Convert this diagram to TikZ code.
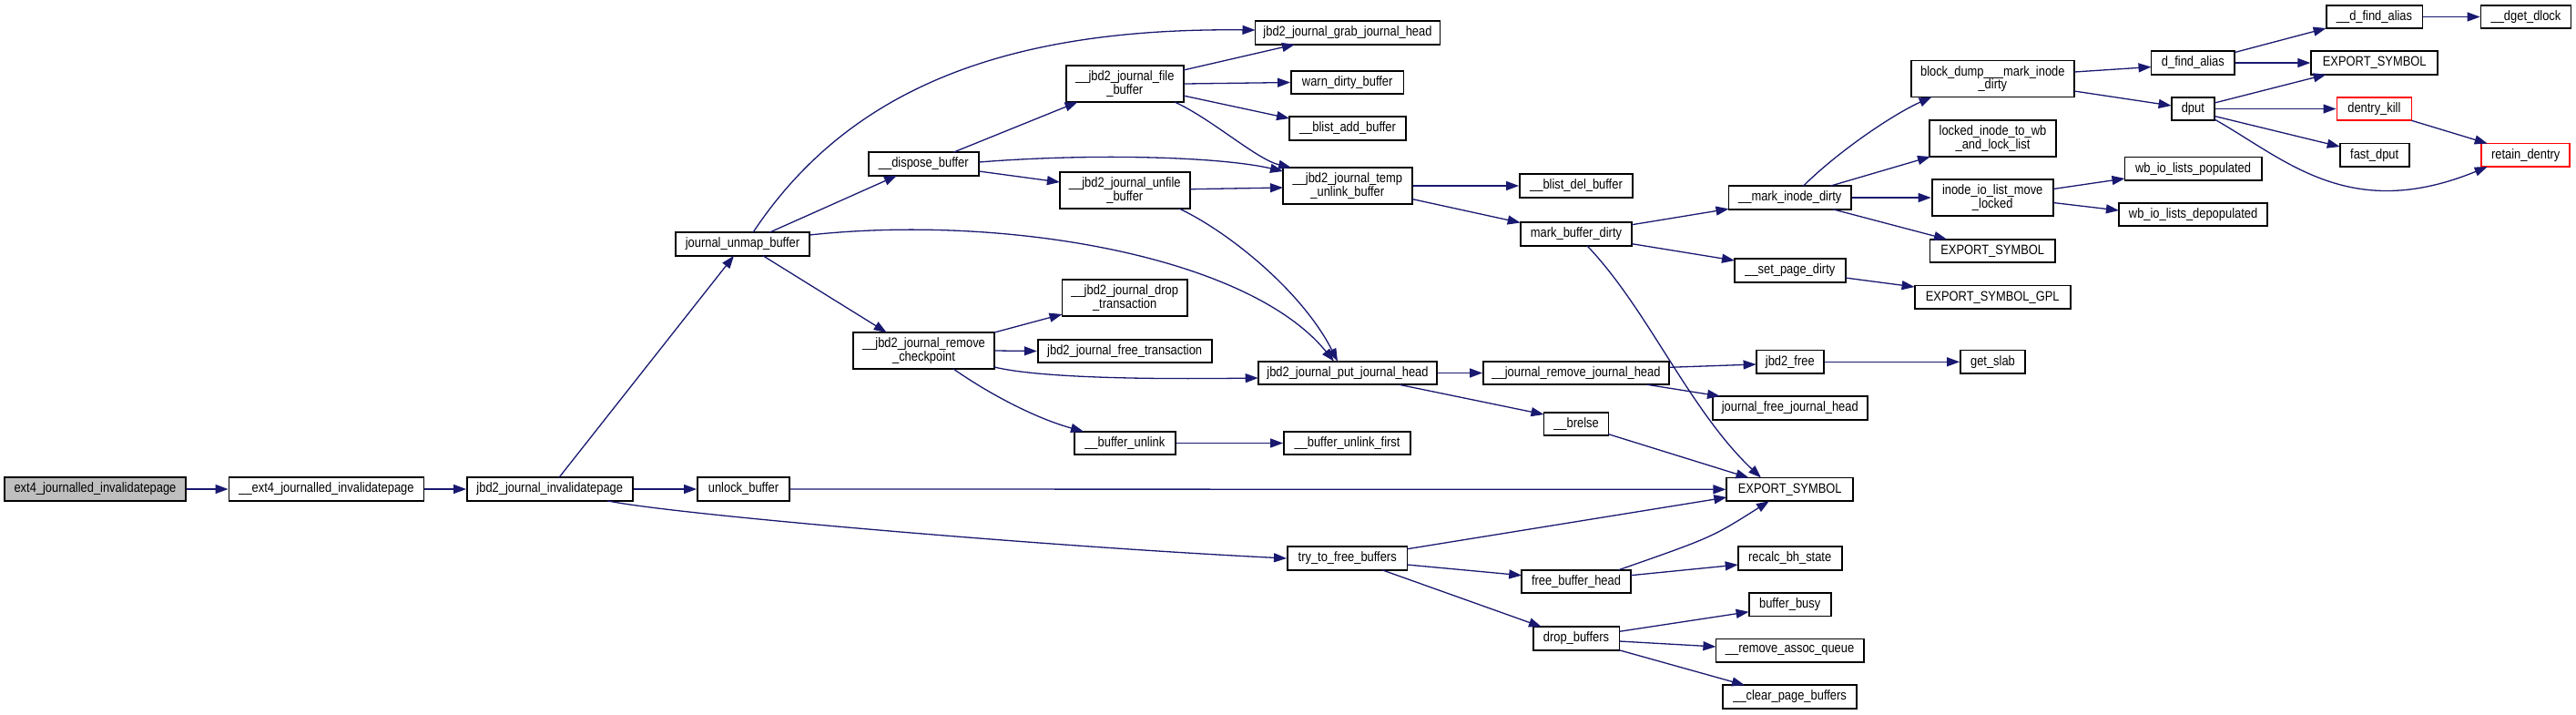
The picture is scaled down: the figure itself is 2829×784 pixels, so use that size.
\documentclass[tikz,border=0pt]{standalone}
\usepackage{fontspec}
\setmainfont{Liberation Sans}[FakeStretch=0.86]
\usetikzlibrary{arrows.meta,calc}
\definecolor{edgec}{HTML}{191970}
\definecolor{rootgray}{HTML}{BFBFBF}
\tikzset{
 box/.style={draw=black, line width=0.9pt, fill=white, inner sep=0pt, align=center,
   font=\fontsize{7.5}{7.3}\selectfont, minimum height=12.8pt},
 box2/.style={box, minimum height=20pt},
 root/.style={box, fill=rootgray},
 redbox/.style={box, draw=red},
 e/.style={draw=edgec, line width=0.65pt, -{Triangle[length=7pt,width=5pt]}},
}
\begin{document}
\begin{tikzpicture}[x=0.5pt,y=-0.5pt]
\useasboundingbox (0,0) rectangle (2829,784);
% nodes
\node[root, minimum width=99.5pt] (n1) at (104.5,537) {ext4\_journalled\_invalidatepage};
\node[box, minimum width=107pt] (n2) at (358.5,537) {\_\_ext4\_journalled\_invalidatepage};
\node[box, minimum width=90.8pt] (n3) at (603.8,537) {jbd2\_journal\_invalidatepage};
\node[box, minimum width=73.5pt] (n4) at (815.5,268) {journal\_unmap\_buffer};
\node[box, minimum width=50.5pt] (n5) at (816.5,537) {unlock\_buffer};
\node[box, minimum width=60.7pt] (n6) at (1014.3,180) {\_\_dispose\_buffer};
\node[box2, minimum width=77.5pt] (n7) at (1014.5,385) {\_\_jbd2\_journal\_remove\\\_checkpoint};
\node[box, minimum width=65.8pt] (n8) at (1479.7,613) {try\_to\_free\_buffers};
\node[box2, minimum width=64.3pt] (n9) at (1235.3,92) {\_\_jbd2\_journal\_file\\\_buffer};
\node[box2, minimum width=71.4pt] (n10) at (1235.3,209) {\_\_jbd2\_journal\_unfile\\\_buffer};
\node[box2, minimum width=68.8pt] (n11) at (1235.2,327) {\_\_jbd2\_journal\_drop\\\_transaction};
\node[box, minimum width=95.5pt] (n12) at (1235.2,385.5) {jbd2\_journal\_free\_transaction};
\node[box, minimum width=55.3pt] (n13) at (1235.3,486.5) {\_\_buffer\_unlink};
\node[box, minimum width=101.5pt] (n14) at (1480,36) {jbd2\_journal\_grab\_journal\_head};
\node[box, minimum width=61.8pt] (n15) at (1479.7,90.5) {warn\_dirty\_buffer};
\node[box, minimum width=64pt] (n16) at (1480,141) {\_\_blist\_add\_buffer};
\node[box2, minimum width=70.8pt] (n17) at (1479.8,204) {\_\_jbd2\_journal\_temp\\\_unlink\_buffer};
\node[box, minimum width=98.3pt] (n18) at (1480,409.5) {jbd2\_journal\_put\_journal\_head};
\node[box, minimum width=69.5pt] (n19) at (1479.5,486.5) {\_\_buffer\_unlink\_first};
\node[box, minimum width=62pt] (n20) at (1731,204) {\_\_blist\_del\_buffer};
\node[box, minimum width=61.3pt] (n21) at (1731,257) {mark\_buffer\_dirty};
\node[box, minimum width=102pt] (n22) at (1731,409.5) {\_\_journal\_remove\_journal\_head};
\node[box, minimum width=35.5pt] (n23) at (1731,465.5) {\_\_brelse};
\node[box, minimum width=59.8pt] (n24) at (1731,638.5) {free\_buffer\_head};
\node[box, minimum width=47.4pt] (n25) at (1731,701) {drop\_buffers};
\node[box, minimum width=67.3pt] (n26) at (1965.8,217) {\_\_mark\_inode\_dirty};
\node[box, minimum width=60.8pt] (n27) at (1965.8,297) {\_\_set\_page\_dirty};
\node[box, minimum width=37.2pt] (n28) at (1965.8,397.3) {jbd2\_free};
\node[box, minimum width=84.8pt] (n29) at (1965.8,447.8) {journal\_free\_journal\_head};
\node[box, minimum width=69.4pt] (n30) at (1965.7,537.3) {EXPORT\_SYMBOL};
\node[box, minimum width=57pt] (n31) at (1965.7,613) {recalc\_bh\_state};
\node[box, minimum width=45.1pt] (n32) at (1965.7,663.7) {buffer\_busy};
\node[box, minimum width=81.2pt] (n33) at (1965.6,714.3) {\_\_remove\_assoc\_queue};
\node[box, minimum width=73.4pt] (n34) at (1965.6,765) {\_\_clear\_page\_buffers};
\node[box2, minimum width=89.7pt] (n35) at (2188.3,86.5) {block\_dump\_\_\_mark\_inode\\\_dirty};
\node[box2, minimum width=69.5pt] (n36) at (2188.5,152) {locked\_inode\_to\_wb\\\_and\_lock\_list};
\node[box2, minimum width=66.6pt] (n37) at (2188.2,217) {inode\_io\_list\_move\\\_locked};
\node[box, minimum width=68.8pt] (n38) at (2188.2,275.5) {EXPORT\_SYMBOL};
\node[box, minimum width=85.6pt] (n39) at (2188.2,326.3) {EXPORT\_SYMBOL\_GPL};
\node[box, minimum width=35.5pt] (n40) at (2188.5,397.3) {get\_slab};
\node[box, minimum width=45.9pt] (n41) at (2408.4,69) {d\_find\_alias};
\node[box, minimum width=23.7pt] (n42) at (2408.3,119.5) {dput};
\node[box, minimum width=75.1pt] (n43) at (2408.6,185.3) {wb\_io\_lists\_populated};
\node[box, minimum width=81.7pt] (n44) at (2408.6,235.5) {wb\_io\_lists\_depopulated};
\node[box, minimum width=52.9pt] (n45) at (2607.5,18.5) {\_\_d\_find\_alias};
\node[box, minimum width=69.5pt] (n46) at (2607.7,69) {EXPORT\_SYMBOL};
\node[redbox, minimum width=41pt] (n47) at (2607.4,119.5) {dentry\_kill};
\node[box, minimum width=38pt] (n48) at (2607.7,170.3) {fast\_dput};
\node[box, minimum width=49.5pt] (n49) at (2774,18.5) {\_\_dget\_dlock};
\node[redbox, minimum width=48.5pt] (n50) at (2773.7,170.3) {retain\_dentry};
% edges
\draw[e] (n1.east) -- (n2.west);
\draw[e] (n2.east) -- (n3.west);
\draw[e] (n3.east) -- (n5.west);
\draw[e] ($(n3)+(10.2,-12.8)$) -- ($(n4)+(-9.5,12.8)$);
\draw[e] ($(n3)+(63.2,12.8)$) .. controls (740,565) and (1150,600) .. (n8.west);
\draw[e] ($(n4)+(11.5,-12.8)$) .. controls (930,100) and (1100,30) .. ($(n14)+(-101.5,-3)$);
\draw[e] ($(n4)+(29.5,-12.8)$) -- ($(n6)+(-29.3,12.8)$);
\draw[e] ($(n4)+(73.5,-10)$) .. controls (1100,235) and (1370,280) .. ($(n18)+(-15,-12.8)$);
\draw[e] ($(n4)+(22.5,12.8)$) -- ($(n7)+(-40.8,-20)$);
\draw[e] ($(n6)+(32.7,-12.8)$) -- ($(n9)+(-51.8,20)$);
\draw[e] ($(n6)+(60.7,8)$) -- ($(n10)+(-71.4,-9)$);
\draw[e] ($(n6)+(60.7,-2)$) .. controls (1200,168) and (1340,172) .. ($(n17)+(-70.8,-16)$);
\draw[e] ($(n9)+(64.3,-15)$) -- ($(n14)+(-58,12.8)$);
\draw[e] (n9.east) -- (n15.west);
\draw[e] ($(n9)+(64.3,13)$) -- ($(n16)+(-64,-11)$);
\draw[e] ($(n9)+(54.7,20)$) .. controls (1330,130) and (1380,175) .. ($(n17)+(-61.8,-20)$);
\draw[e] ($(n10)+(71.4,-1.3)$) -- ($(n17)+(-70.8,2)$);
\draw[e] ($(n10)+(59.7,20)$) .. controls (1350,255) and (1430,320) .. ($(n18)+(-11,-12.8)$);
\draw[e] ($(n7)+(77.5,-20)$) -- ($(n11)+(-68.7,18)$);
\draw[e] (n7.east) -- (n12.west);
\draw[e] ($(n7)+(77.5,18)$) .. controls (1150,417) and (1300,416) .. ($(n18)+(-98.3,5.5)$);
\draw[e] ($(n7)+(32.5,20)$) .. controls (1090,435) and (1140,460) .. ($(n13)+(-45.3,-12.8)$);
\draw[e] (n13.east) -- (n19.west);
\draw[e] ($(n8)+(65.8,-10.3)$) -- ($(n30)+(-69.4,8.7)$);
\draw[e] ($(n8)+(65.8,7)$) -- ($(n24)+(-59.8,-6.8)$);
\draw[e] ($(n8)+(38.3,12.8)$) -- ($(n25)+(-38,-12.8)$);
\draw[e] (n5.east) -- (n30.west);
\draw[e] (n17.east) -- (n20.west);
\draw[e] ($(n17)+(70.8,14.5)$) -- ($(n21)+(-61.3,-12.5)$);
\draw[e] (n18.east) -- (n22.west);
\draw[e] ($(n18)+(56.7,12.8)$) -- ($(n23)+(-35.5,-10.5)$);
\draw[e] ($(n21)+(61.3,-10.3)$) -- ($(n26)+(-67.3,12.3)$);
\draw[e] ($(n21)+(61.3,10.7)$) -- ($(n27)+(-60.8,-11)$);
\draw[e] ($(n21)+(12,12.8)$) .. controls (1810,340) and (1855,450) .. ($(n30)+(-31.7,-12.8)$);
\draw[e] ($(n22)+(102,-6.2)$) -- ($(n28)+(-37.2,2.7)$);
\draw[e] ($(n22)+(78,12.8)$) -- ($(n29)+(-76.8,-12.8)$);
\draw[e] ($(n23)+(35.5,11.2)$) -- ($(n30)+(-45.2,-12.8)$);
\draw[e] ($(n24)+(46.7,-12.8)$) .. controls (1880,590) .. ($(n30)+(-22.7,12.8)$);
\draw[e] ($(n24)+(59.8,-6.8)$) -- ($(n31)+(-57,7)$);
\draw[e] ($(n25)+(47.4,-7.7)$) -- ($(n32)+(-45.1,8)$);
\draw[e] ($(n25)+(47.4,3)$) -- ($(n33)+(-81.2,-4.3)$);
\draw[e] ($(n25)+(47.4,12.8)$) -- ($(n34)+(-49.6,-12.8)$);
\draw[e] ($(n26)+(14.6,-12.8)$) .. controls (2020,165) and (2080,125) .. ($(n35)+(-66.8,20)$);
\draw[e] ($(n26)+(44.2,-12.8)$) -- ($(n36)+(-68.5,20)$);
\draw[e] (n26.east) -- (n37.west);
\draw[e] ($(n26)+(47.2,12.8)$) -- ($(n38)+(-50.2,-12.8)$);
\draw[e] ($(n27)+(60.8,8)$) -- ($(n39)+(-85.6,-11.3)$);
\draw[e] (n28.east) -- (n40.west);
\draw[e] ($(n35)+(89.7,-7.5)$) -- ($(n41)+(-45.9,4.5)$);
\draw[e] ($(n35)+(89.7,13.5)$) -- ($(n42)+(-23.7,-3.5)$);
\draw[e] ($(n37)+(66.6,-9.5)$) -- ($(n43)+(-75.1,10.7)$);
\draw[e] ($(n37)+(66.6,5.5)$) -- ($(n44)+(-81.7,-4.5)$);
\draw[e] ($(n41)+(45.9,-11.5)$) -- ($(n45)+(-52.9,12.5)$);
\draw[e] (n41.east) -- (n46.west);
\draw[e] ($(n42)+(23.7,-6.5)$) -- ($(n46)+(-53.1,12.8)$);
\draw[e] (n42.east) -- (n47.west);
\draw[e] ($(n42)+(23.7,8)$) -- ($(n48)+(-38,-9.3)$);
\draw[e] ($(n42)+(23.7,11.5)$) .. controls (2510,175) and (2580,245) .. ($(n50)+(-42,12.8)$);
\draw[e] ($(n47)+(41,12.8)$) -- ($(n50)+(-42,-12.8)$);
\draw[e] (n45.east) -- (n49.west);
\end{tikzpicture}
\end{document}
